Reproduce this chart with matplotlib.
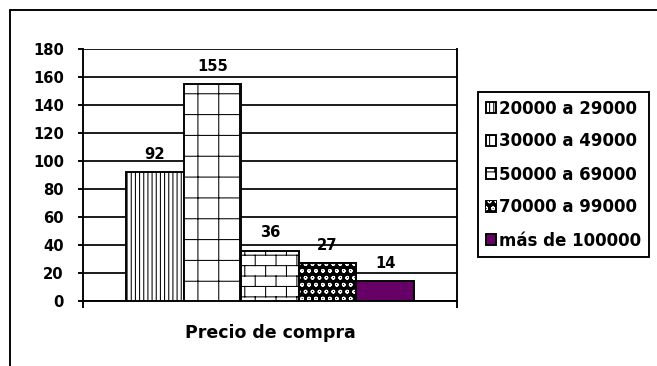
import warnings
import numpy as np
import matplotlib
matplotlib.use('Agg')
import matplotlib.pyplot as plt
import matplotlib.hatch as mhatch
from matplotlib.path import Path
from matplotlib.patches import Rectangle

warnings.filterwarnings('ignore')

categorias = ['20000 a 29000', '30000 a 49000', '50000 a 69000',
              '70000 a 99000', 'más de 100000']
valores = [92, 155, 36, 27, 14]
eje_x = 'Precio de compra'
y_ticks = list(range(0, 181, 20))


# trama de ladrillos (no existe en matplotlib)
class BrickHatch(mhatch.HatchPatternBase):
    def __init__(self, hatch, density):
        n = hatch.count('b') * density
        segs = []
        if n:
            w = 2.0 / n
            for k in range(n):
                y = (k + 0.5) / n
                segs.append(((0.0, y), (1.0, y)))
                shift = 0.5 * (k % 2) + 0.25
                for j in range(n // 2):
                    x = (j + shift) * w
                    segs.append(((x, y), (x, min(y + 1.0 / n, 1.0))))
                    if k == n - 1:
                        segs.append(((x, 0.0), (x, 0.5 / n)))
        self.segs = segs
        self.num_vertices = 2 * len(segs)

    def set_vertices_and_codes(self, vertices, codes):
        for i, (a, b) in enumerate(self.segs):
            vertices[2 * i] = a
            vertices[2 * i + 1] = b
        codes[0::2] = Path.MOVETO
        codes[1::2] = Path.LINETO


mhatch._hatch_types.append(BrickHatch)

plt.rcParams['font.family'] = ['DejaVu Sans']
plt.rcParams['font.weight'] = 'bold'
plt.rcParams['hatch.linewidth'] = 0.6

DPI = 125
W, H = 657, 366
FS = 8.5
fig = plt.figure(figsize=(W / DPI, H / DPI), dpi=DPI)
ax = fig.add_axes([83 / W, 1 - 301 / H, (457 - 83) / W, (301 - 49) / H])

x = np.arange(len(valores)) - 2
half = 2.5 * 374 / 288

b1 = ax.bar(x[0], valores[0], width=1, facecolor='white', edgecolor='black',
            linewidth=1.1, hatch='|||||', zorder=3)
b2 = ax.bar(x[1], valores[1], width=1, facecolor='white', edgecolor='black',
            linewidth=1.1, hatch='+', zorder=3)
b3 = ax.bar(x[2], valores[2], width=1, facecolor='white', edgecolor='black',
            linewidth=1.1, hatch='bb', zorder=3)
b4 = ax.bar(x[3], valores[3], width=1, facecolor='black', edgecolor='black',
            linewidth=1.1, zorder=3)
b4p = ax.bar(x[3], valores[3], width=1, facecolor='none', edgecolor='white',
             linewidth=0, hatch='ooo', zorder=4)
ax.bar(x[3], valores[3], width=1, fill=False, edgecolor='black',
       linewidth=1.1, zorder=5)
b5 = ax.bar(x[4], valores[4], width=1, facecolor='#660066', edgecolor='black',
            linewidth=1.1, zorder=3)

for xi, v in zip(x, valores):
    ax.annotate(str(v), (xi, v), xytext=(0, 6), textcoords='offset points',
                ha='center', va='bottom', fontsize=FS, fontweight='bold')

ax.set_xlim(-half, half)
ax.set_ylim(0, 180)
ax.set_yticks(y_ticks)
ax.set_xticks([-half, half])
ax.set_xticklabels(['', ''])
ax.tick_params(axis='y', direction='out', length=3, width=1.1,
               labelsize=FS, pad=8)
ax.tick_params(axis='x', direction='out', length=4, width=1.1)
ax.yaxis.grid(True, color='black', linewidth=1.0)
ax.set_axisbelow(True)
ax.spines['top'].set_visible(False)
for s in ['left', 'bottom', 'right']:
    ax.spines[s].set_linewidth(1.1)
ax.set_xlabel(eje_x, fontsize=10, fontweight='bold', labelpad=6)

# marco exterior
fig.add_artist(Rectangle((10 / W, -0.05), 2, 1 - 10 / H + 0.05,
                         transform=fig.transFigure, fill=False,
                         edgecolor='black', linewidth=1.1))

leg = fig.legend([b1, b2, b3, (b4, b4p), b5], categorias,
                 loc='upper left', bbox_to_anchor=(478 / W, 1 - 92 / H),
                 fancybox=False, framealpha=1, edgecolor='black',
                 borderaxespad=0, borderpad=0.45, labelspacing=0.9,
                 handlelength=0.6, handleheight=0.6, handletextpad=0.22,
                 prop={'size': 9.6, 'weight': 'bold'})
leg.get_frame().set_linewidth(1.1)

fig.savefig('out.png', dpi=DPI)
